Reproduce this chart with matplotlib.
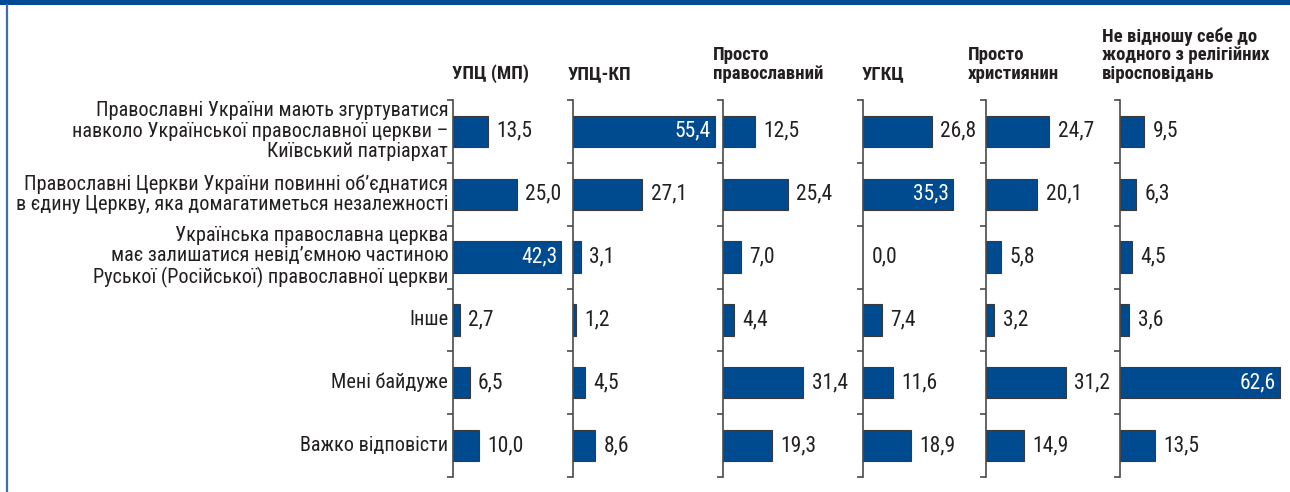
import matplotlib
matplotlib.use("Agg")
import matplotlib.pyplot as plt
from matplotlib import font_manager as fm
from matplotlib.patches import Rectangle
from matplotlib.lines import Line2D

# ---------------- data ----------------
categories = [
    "Православні України мають згуртуватися\nнавколо Української православної церкви –\nКиївський патріархат",
    "Православні Церкви України повинні об’єднатися\nв єдину Церкву, яка домагатиметься незалежності",
    "Українська православна церква\nмає залишатися невід’ємною частиною\nРуської (Російської) православної церкви",
    "Інше",
    "Мені байдуже",
    "Важко відповісти",
]
groups = [
    "УПЦ (МП)",
    "УПЦ-КП",
    "Просто\nправославний",
    "УГКЦ",
    "Просто\nхристиянин",
    "Не відношу себе до\nжодного з релігійних\nвіросповідань",
]
upc_mp = [13.5, 25.0, 42.3, 2.7, 6.5, 10.0]
upc_kp = [55.4, 27.1, 3.1, 1.2, 4.5, 8.6]
orthodox = [12.5, 25.4, 7.0, 4.4, 31.4, 19.3]
ugcc = [26.8, 35.3, 0.0, 7.4, 11.6, 18.9]
christian = [24.7, 20.1, 5.8, 3.2, 31.2, 14.9]
none_rel = [9.5, 6.3, 4.5, 3.6, 62.6, 13.5]
series = [upc_mp, upc_kp, orthodox, ugcc, christian, none_rel]

# ---------------- fonts ----------------
names = {f.name for f in fm.fontManager.ttflist}
narrow = None
for n in ["Liberation Sans Narrow", "Roboto Condensed", "Open Sans Condensed", "Arial Narrow"]:
    if n in names:
        narrow = n
        break
stretch = "normal"
if narrow is None:
    if any(f.name == "DejaVu Sans" and f.stretch == "condensed" for f in fm.fontManager.ttflist):
        narrow = "DejaVu Sans"
        stretch = "condensed"
    else:
        narrow = "Roboto"
plt.rcParams["font.family"] = [narrow, "DejaVu Sans"]
plt.rcParams["font.stretch"] = stretch

TEXT = "#231f20"
BAR = "#004a8f"
EDGE = "#3a3a3a"
SPINE = "#4a4a4a"

W, H = 1290, 492
fig = plt.figure(figsize=(W / 100, H / 100), dpi=100)

# frame decorations
fig.patches.append(Rectangle((0, 1 - 5 / H), 1, 5 / H, transform=fig.transFigure,
                             facecolor="#004b93", edgecolor="none"))
fig.lines.append(Line2D([7 / W, 7 / W], [0, 1 - 5 / H], transform=fig.transFigure,
                        color="#3d6faa", linewidth=1.6))

starts = [453, 573, 723, 863, 986, 1120]
ends = starts[1:] + [1290]
top_px, bot_px = 100, 477
scale = 2.56  # px per percent
header_x = [452, 568, 713, 862, 968, 1102]

for k, vals in enumerate(series):
    x0, x1 = starts[k], ends[k]
    ax = fig.add_axes([x0 / W, 1 - bot_px / H, (x1 - x0) / W, (bot_px - top_px) / H])
    ax.set_facecolor("none")
    ypos = list(range(len(categories)))
    edges = [EDGE if v > 0 else "none" for v in vals]
    ax.barh(ypos, vals, height=0.5, color=BAR, edgecolor=edges, linewidth=0.8, zorder=3)
    ax.set_xlim(0, (x1 - x0) / scale)
    ax.set_ylim(len(categories) - 0.5, -0.5)
    for s in ["top", "right", "bottom"]:
        ax.spines[s].set_visible(False)
    ax.spines["left"].set_color(SPINE)
    ax.spines["left"].set_linewidth(1.2)
    ax.spines["left"].set_zorder(5)
    ax.set_xticks([])
    ax.set_yticks([i - 0.5 for i in range(len(categories) + 1)])
    ax.set_yticklabels([])
    ax.tick_params(axis="y", direction="out", length=4.5, width=1.2, color=SPINE)
    for i, v in enumerate(vals):
        lab = f"{v:.1f}".replace(".", ",")
        if v > 33:
            ax.annotate(lab, xy=(v, i), xytext=(-3, 0), textcoords="offset points",
                        ha="right", va="center", color="white", fontsize=15.5, zorder=4)
        else:
            ax.annotate(lab, xy=(v, i), xytext=(6, 0), textcoords="offset points",
                        ha="left", va="center", color=TEXT, fontsize=15.5, zorder=4)
    if k == 0:
        for i, c in enumerate(categories):
            ax.annotate(c, xy=(0, i), xycoords=("axes fraction", "data"),
                        xytext=(-3.5, 0), textcoords="offset points",
                        ha="right", va="center", color=TEXT, fontsize=14.6,
                        linespacing=1.1)
    fig.text(header_x[k] / W, 1 - 83 / H, groups[k], ha="left", va="bottom",
             fontsize=13.5, fontweight="bold", color=TEXT, linespacing=1.05)

fig.savefig("out.png", dpi=100)
